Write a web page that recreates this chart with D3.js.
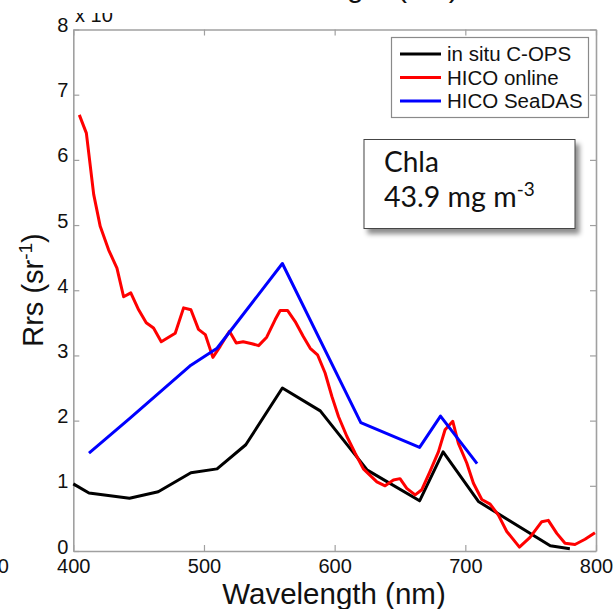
<!DOCTYPE html>
<html>
<head>
<meta charset="utf-8">
<script src="https://cdn.jsdelivr.net/npm/d3@7"></script>
<style>
  body { margin: 0; background: #fff; }
  svg { display: block; font-family: "Liberation Sans", Arial, sans-serif; }
</style>
</head>
<body>
<div id="chart-area"></div>
<script>
// in situ C-OPS
var copsWl  = [400, 412, 443, 465, 490, 510, 532, 560, 589, 625, 665, 683, 710, 765, 780];
var copsRrs = [1.03, 0.89, 0.81, 0.91, 1.20, 1.26, 1.63, 2.50, 2.15, 1.24, 0.77, 1.52, 0.76, 0.08, 0.035];

// HICO SeaDAS
var seadasWl  = [412, 443, 490, 510, 560, 620, 665, 681, 709];
var seadasRrs = [1.50, 2.03, 2.85, 3.11, 4.41, 1.97, 1.59, 2.07, 1.34];

// HICO online
var onlineWl = [404.6, 410, 415.6, 420.6, 427, 433.4, 438.5, 444, 450, 455.8, 461.4, 467.3, 478, 484.4, 490,
    495.8, 501, 506.8, 512.4, 519.5, 524.7, 530, 536.7, 541.8, 548, 554.5, 558.3, 563.9, 569.8, 576,
    581.3, 586.9, 592.7, 597.9, 603, 609.3, 615.7, 622, 632.3, 638.6, 645, 650, 655.2, 661.6, 666.7,
    673, 679.4, 684.5, 690.4, 694.7, 701.1, 706.2, 712.6, 719, 725.3, 731.7, 741.4, 749.5, 758.5, 763.5,
    770, 776.3, 783.9, 791.6, 799.2];
var onlineRrs = [6.69, 6.41, 5.47, 4.98, 4.62, 4.34, 3.90, 3.96, 3.70, 3.50, 3.42, 3.21, 3.34, 3.73, 3.70,
    3.40, 3.32, 2.97, 3.14, 3.37, 3.19, 3.21, 3.18, 3.15, 3.28, 3.55, 3.69, 3.69, 3.52, 3.29,
    3.11, 3.01, 2.73, 2.37, 2.06, 1.76, 1.50, 1.26, 1.06, 1.00, 1.09, 1.11, 0.96, 0.86, 0.94,
    1.22, 1.52, 1.86, 1.99, 1.65, 1.35, 1.04, 0.79, 0.72, 0.55, 0.30, 0.06, 0.21, 0.45, 0.47,
    0.27, 0.12, 0.10, 0.18, 0.28];

var xTicks = [400, 500, 600, 700, 800];
var yTicks = [0, 1, 2, 3, 4, 5, 6, 7, 8];
var legendNames  = ["in situ C-OPS", "HICO online", "HICO SeaDAS"];
var legendColors = ["#000000", "#ff0000", "#0000ff"];

var W = 616, H = 609;
var margin = {top: 29.5, right: 20, bottom: 58, left: 73.3};
var width = 596 - margin.left;
var height = 551 - margin.top;

var svg = d3.select('#chart-area')
    .append('svg')
        .attr('width', W)
        .attr('height', H);

var defs = svg.append('defs');
var shadow = defs.append('filter').attr('id', 'shadow')
    .attr('x', '-10%').attr('y', '-10%').attr('width', '130%').attr('height', '140%');
shadow.append('feDropShadow')
    .attr('dx', 4).attr('dy', 5).attr('stdDeviation', 2.5)
    .attr('flood-color', '#000').attr('flood-opacity', 0.45);
defs.append('clipPath').attr('id', 'expclip')
    .append('rect').attr('x', 60).attr('y', 13).attr('width', 80).attr('height', 20);

var g = svg.append('g')
    .attr('transform', 'translate(' + margin.left + ', ' + margin.top + ')');

var x = d3.scaleLinear().domain([400, 800]).range([0, width]);
var y = d3.scaleLinear().domain([0, 8]).range([height, 0]);

var axisColor = '#a0a0a0';

// axes on all four sides, ticks pointing inward
var axBottom = g.append('g')
    .attr('transform', 'translate(0, ' + height + ')')
    .call(d3.axisBottom(x).tickValues(xTicks).tickSizeInner(-6).tickSizeOuter(0).tickPadding(8));
var axLeft = g.append('g')
    .call(d3.axisLeft(y).tickValues(yTicks).tickSizeInner(-6).tickSizeOuter(0).tickPadding(5));
var axTop = g.append('g')
    .call(d3.axisTop(x).tickValues(xTicks).tickSizeInner(-6).tickSizeOuter(0).tickFormat(''));
var axRight = g.append('g')
    .attr('transform', 'translate(' + width + ', 0)')
    .call(d3.axisRight(y).tickValues(yTicks).tickSizeInner(-6).tickSizeOuter(0).tickFormat(''));

[axBottom, axLeft, axTop, axRight].forEach(function (a) {
    a.select('.domain').attr('stroke', axisColor).attr('stroke-width', 1.6);
    a.selectAll('.tick line').attr('stroke', axisColor).attr('stroke-width', 1.2);
    a.selectAll('.tick text')
        .attr('font-family', '"Liberation Sans", Arial, sans-serif')
        .attr('font-size', '20px')
        .attr('fill', '#111');
});
axLeft.selectAll('.tick text').attr('dy', '0.1em');

// lines
var line = d3.line()
    .x(function (d) { return x(d[0]); })
    .y(function (d) { return y(d[1]); });

var series = [
    {wl: copsWl, v: copsRrs, color: '#000000'},
    {wl: onlineWl, v: onlineRrs, color: '#ff0000'},
    {wl: seadasWl, v: seadasRrs, color: '#0000ff'}
];
series.forEach(function (s) {
    var pts = s.wl.map(function (w, i) { return [w, s.v[i]]; });
    g.append('path')
        .datum(pts)
        .attr('d', line)
        .attr('fill', 'none')
        .attr('stroke', s.color)
        .attr('stroke-width', 3)
        .attr('stroke-linejoin', 'round');
});

// legend
var leg = svg.append('g');
leg.append('rect')
    .attr('x', 391.5).attr('y', 37.5).attr('width', 197).attr('height', 80)
    .attr('fill', '#fff').attr('stroke', '#8a8a8a').attr('stroke-width', 1.2);
legendNames.forEach(function (name, i) {
    var ly = 54 + i * 23.5;
    leg.append('line')
        .attr('x1', 400).attr('x2', 441).attr('y1', ly).attr('y2', ly)
        .attr('stroke', legendColors[i]).attr('stroke-width', 3);
    leg.append('text')
        .attr('x', 447).attr('y', ly + 7)
        .attr('font-size', '20.5px').attr('fill', '#111')
        .text(name);
});

// Chla box
var box = svg.append('g');
box.append('rect')
    .attr('x', 364).attr('y', 139.5).attr('width', 211).attr('height', 89)
    .attr('fill', '#fff').attr('stroke', '#444').attr('stroke-width', 1)
    .attr('filter', 'url(#shadow)');
box.append('text')
    .attr('x', 384).attr('y', 172)
    .attr('font-family', 'Lato, "Open Sans", sans-serif')
    .attr('font-size', '28px').attr('fill', '#111')
    .text('Chla');
var t2 = box.append('text')
    .attr('x', 384).attr('y', 207)
    .attr('font-family', 'Lato, "Open Sans", sans-serif')
    .attr('font-size', '28.5px').attr('fill', '#111');
t2.append('tspan').text('43.9 mg m');
t2.append('tspan').attr('dy', -11).attr('font-size', '19px').text('-3');

// axis labels
svg.append('text')
    .attr('x', 334).attr('y', 604)
    .attr('text-anchor', 'middle')
    .attr('font-size', '29.5px').attr('fill', '#111')
    .text('Wavelength (nm)');

var yl = svg.append('text')
    .attr('transform', 'translate(43, 290) rotate(-90)')
    .attr('text-anchor', 'middle')
    .attr('font-size', '29px').attr('fill', '#111');
yl.append('tspan').text('Rrs (sr');
yl.append('tspan').attr('dy', -11).attr('font-size', '19px').text('-1');
yl.append('tspan').attr('dy', 11).text(')');

// exponent label, clipped at the top like the source
svg.append('text')
    .attr('x', 75).attr('y', 22)
    .attr('font-size', '20px').attr('fill', '#111')
    .attr('clip-path', 'url(#expclip)')
    .text('x 10');

// fragments of the neighbouring panels
svg.append('text')
    .attr('x', 345).attr('y', -3)
    .attr('text-anchor', 'middle')
    .attr('font-size', '30px').attr('fill', '#111')
    .text('Wavelength (nm)');
svg.append('text')
    .attr('x', 9).attr('y', 573)
    .attr('text-anchor', 'end')
    .attr('font-size', '20px').attr('fill', '#111')
    .text('800');
</script>
</body>
</html>
